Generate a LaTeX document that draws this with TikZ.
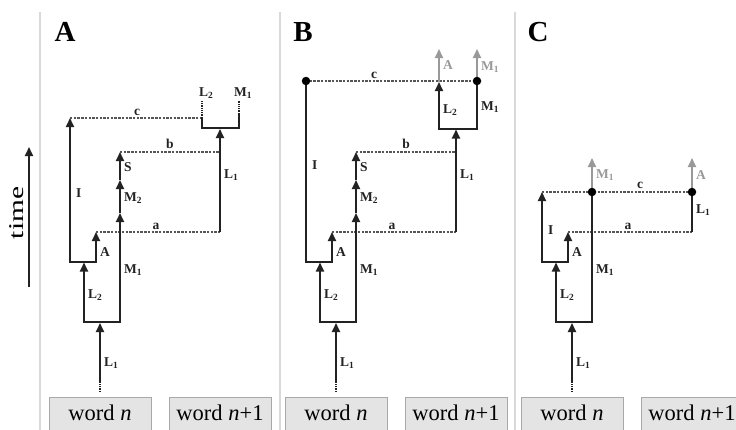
\documentclass[tikz,border=0pt]{standalone}
\usepackage{fontspec}
\setmainfont{Liberation Serif}
\usetikzlibrary{arrows.meta}
\definecolor{lnc}{HTML}{222222}
\definecolor{dshc}{HTML}{555555}
\definecolor{grc}{HTML}{999999}
\definecolor{sepc}{HTML}{d9d9d9}
\definecolor{boxf}{HTML}{e4e4e4}
\definecolor{boxd}{HTML}{a8a8a8}
\tikzset{
 ln/.style={draw=lnc, line width=1.8pt},
 lnr/.style={ln, line cap=rect},
 arr/.style={ln, -{Triangle[length=9pt,width=8pt]}},
 garr/.style={draw=grc, line width=1.8pt, -{Triangle[length=9pt,width=8pt]}},
 dsh/.style={draw=dshc, line width=1.5pt, dash pattern=on 2.4pt off 1.3pt},
 tail/.style={draw=lnc, line width=1.8pt, dash pattern=on 1.3pt off 1pt},
 lbl/.style={font=\fontsize{13.5}{14}\selectfont\bfseries, text=lnc, inner sep=0pt, anchor=west},
 glbl/.style={lbl, text=grc},
 bl/.style={font=\fontsize{13.5}{14}\selectfont\bfseries, text=lnc, inner sep=0pt, anchor=base},
 dot/.style={circle, fill=black, inner sep=0pt, minimum size=8.5pt},
 wbox/.style={draw=boxd, fill=boxf, line width=1pt, minimum width=102pt, anchor=north,
   inner xsep=0pt, inner ysep=7pt, text height=16pt, text depth=14pt, font=\fontsize{22.5}{24}\selectfont},
 panel/.style={font=\fontsize{29}{30}\selectfont\bfseries, inner sep=0pt},
 sepl/.style={draw=sepc, line width=2pt},
}
\newcommand\lowerpart[1]{%
 \coordinate (#1-l1s) at (0,392);
 \coordinate (#1-l1d) at (0,382);
 \coordinate (#1-bb) at (0,323);
 \coordinate (#1-bl) at (-16,322);
 \coordinate (#1-br) at (20,322);
 \coordinate (#1-l2t) at (-16,262.5);
 \coordinate (#1-il) at (-30,262);
 \coordinate (#1-ar) at (-4,262);
 \coordinate (#1-at) at (-4,232);
 \coordinate (#1-ae) at (120,232);
 \draw[tail] (#1-l1s) -- (#1-l1d);
 \draw[arr] (#1-l1d) -- (#1-bb);
 \draw[lnr] (#1-bl) -- (#1-br);
 \draw[arr] (#1-bl) -- (#1-l2t);
 \draw[lnr] (#1-il) -- (#1-ar);
 \draw[arr] (#1-ar) -- (#1-at);
 \draw[dsh] (#1-at) -- (#1-ae);
 \node[lbl] (#1-tL1) at (4,363) {L\textsubscript{1}};
 \node[lbl] (#1-tL2) at (-12,295) {L\textsubscript{2}};
 \node[lbl] (#1-tM1) at (24,270) {M\textsubscript{1}};
 \node[lbl] (#1-tA) at (0,252) {A};
 \node[bl] (#1-ta) at (56,229) {a};
 \node[wbox] (#1-wn) at (0,397) {word \textit{n}};
 \node[wbox] (#1-wn1) at (120,397) {word \textit{n}+1};
}
\newcommand\midpart[1]{%
 \coordinate (#1-m2s) at (20,213);
 \coordinate (#1-m2t) at (20,180);
 \coordinate (#1-st) at (20,152);
 \coordinate (#1-be) at (120,152);
 \draw[arr] (#1-br) -- (#1-m2s);
 \draw[arr] (#1-m2s) -- (#1-m2t);
 \draw[arr] (#1-m2t) -- (#1-st);
 \draw[dsh] (#1-st) -- (#1-be);
 \node[lbl] (#1-tM2) at (24,198) {M\textsubscript{2}};
 \node[lbl] (#1-tS) at (24,167) {S};
 \node[bl] (#1-tb) at (70,148) {b};
 \node[lbl] (#1-tL1r) at (124,175) {L\textsubscript{1}};
}
\begin{document}
\begin{tikzpicture}[x=1pt,y=-1pt]
\useasboundingbox (0,0) rectangle (736,429);
\clip (0,0) rectangle (736,429);
% separators
\draw[sepl] (40,12) -- (40,432);
\draw[sepl] (280,12) -- (280,432);
\draw[sepl] (515,12) -- (515,432);
% time axis
\coordinate (tb) at (29,287);
\coordinate (tt) at (29,147);
\draw[arr] (tb) -- (tt);
\node[rotate=90, inner sep=0pt, font=\fontsize{21}{22}\selectfont] (time) at (17,213) {\scalebox{1.4}[1]{time}};
% panel letters
\node[panel] (pA) at (65,32) {A};
\node[panel] (pB) at (303,32) {B};
\node[panel] (pC) at (538,32) {C};
% ---------------- Panel A
\begin{scope}[shift={(100,0)}]
 \lowerpart{A}
 \midpart{A}
 \coordinate (A-it) at (-30,118);
 \coordinate (A-ce) at (102,118);
 \coordinate (A-bkl) at (102,128);
 \coordinate (A-bkr) at (139,128);
 \coordinate (A-bklt) at (102,101);
 \coordinate (A-bkrm) at (139,114);
 \coordinate (A-bkrt) at (139,101);
 \coordinate (A-l1rt) at (120,129);
 \draw[arr] (A-il) -- (A-it);
 \draw[dsh] (A-it) -- (A-ce);
 \draw[lnr] (A-bkl) -- (A-bkr);
 \draw[ln] (A-bkl) -- (A-ce);
 \draw[tail] (A-ce) -- (A-bklt);
 \draw[ln] (A-bkr) -- (A-bkrm);
 \draw[tail] (A-bkrm) -- (A-bkrt);
 \draw[arr] (A-ae) -- (A-l1rt);
 \node[lbl] (A-tI) at (-24,193) {I};
 \node[bl] (A-tc) at (37,115) {c};
 \node[lbl] (A-tL2t) at (99,93) {L\textsubscript{2}};
 \node[lbl] (A-tM1t) at (134,93) {M\textsubscript{1}};
\end{scope}
% ---------------- Panel B
\begin{scope}[shift={(336,0)}]
 \lowerpart{B}
 \midpart{B}
 \coordinate (B-it) at (-30,81);
 \coordinate (B-l2b) at (103,129);
 \coordinate (B-m1b) at (141,129);
 \coordinate (B-l2t) at (103,82);
 \coordinate (B-m1t) at (141,81);
 \coordinate (B-ga) at (103,49);
 \coordinate (B-gm) at (141,49);
 \coordinate (B-l1rt) at (120,129.5);
 \draw[ln] (B-il) -- (B-it);
 \draw[dsh] (B-it) -- (B-m1t);
 \draw[garr] (B-l2t) -- (B-ga);
 \draw[garr] (B-m1t) -- (B-gm);
 \draw[lnr] (B-l2b) -- (B-m1b);
 \draw[arr] (B-l2b) -- (B-l2t);
 \draw[ln] (B-m1b) -- (B-m1t);
 \draw[arr] (B-ae) -- (B-l1rt);
 \node[dot] (B-d1) at (B-it) {};
 \node[dot] (B-d2) at (B-m1t) {};
 \node[lbl] (B-tI) at (-24,165) {I};
 \node[bl] (B-tc) at (38,78) {c};
 \node[glbl] (B-gA) at (107,65) {A};
 \node[glbl] (B-gM) at (145,67) {M\textsubscript{1}};
 \node[lbl] (B-tL2t) at (107,110) {L\textsubscript{2}};
 \node[lbl] (B-tM1t) at (145,107) {M\textsubscript{1}};
\end{scope}
% ---------------- Panel C
\begin{scope}[shift={(572,0)}]
 \lowerpart{C}
 \coordinate (C-it) at (-30,192);
 \coordinate (C-m1t) at (20,192);
 \coordinate (C-l1t) at (120,192);
 \coordinate (C-gm) at (20,158);
 \coordinate (C-ga) at (120,158);
 \draw[arr] (C-il) -- (C-it);
 \draw[dsh] (C-it) -- (C-l1t);
 \draw[ln] (C-br) -- (C-m1t);
 \draw[ln] (C-ae) -- (C-l1t);
 \draw[garr] (C-m1t) -- (C-gm);
 \draw[garr] (C-l1t) -- (C-ga);
 \node[dot] (C-d1) at (C-m1t) {};
 \node[dot] (C-d2) at (C-l1t) {};
 \node[lbl] (C-tI) at (-24,230) {I};
 \node[bl] (C-tc) at (68,188) {c};
 \node[glbl] (C-gM) at (24,175) {M\textsubscript{1}};
 \node[glbl] (C-gA) at (124,175) {A};
 \node[lbl] (C-tL1r) at (124,210) {L\textsubscript{1}};
\end{scope}
\end{tikzpicture}
\end{document}
